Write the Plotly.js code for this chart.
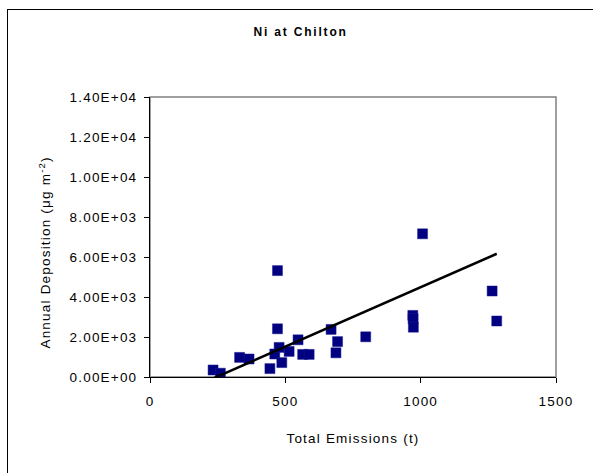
<!DOCTYPE html>
<html>
<head>
<meta charset="utf-8">
<script src="https://cdn.plot.ly/plotly-3.0.1.min.js"></script>
<style>
  html, body { margin: 0; padding: 0; background: #fff; }
  #wrap { position: relative; width: 593px; height: 473px; overflow: hidden; }
  #chart { position: absolute; left: 0; top: 0; width: 593px; height: 473px; }
  #frame { position: absolute; left: 7px; top: 9px; width: 700px; height: 600px;
           border-left: 1px solid #000; border-top: 1px solid #000; pointer-events: none; }
  .main-svg text { letter-spacing: 1.2px; }
  .main-svg .gtitle { letter-spacing: 1.8px; }
</style>
</head>
<body>
<div id="wrap">
  <div id="chart"></div>
  <div id="frame"></div>
</div>
<script>
// Total emissions (t) and annual deposition (µg m-2)
var emissions = [233, 260, 331, 366, 443, 461, 471, 471, 477, 487, 514, 547,
                 564, 588, 669, 687, 693, 797, 971, 972, 973, 1007, 1264, 1281];
var deposition = [350, 190, 980, 900, 420, 1150, 5320, 2410, 1480, 720, 1280, 1860,
                  1130, 1130, 2380, 1210, 1770, 2010, 3080, 2920, 2490, 7160, 4300, 2800];

// Linear trendline as drawn on the chart
var trendSlope = 5.95;
var trendIntercept = -1460;

var yTickVals = [0, 2000, 4000, 6000, 8000, 10000, 12000, 14000];
var yTickText = ["0.00E+00", "2.00E+03", "4.00E+03", "6.00E+03", "8.00E+03",
                 "1.00E+04", "1.20E+04", "1.40E+04"];
var xTickVals = [0, 500, 1000, 1500];
var xTickText = ["0", "500", "1000", "1500"];

var xMin = Math.min.apply(null, emissions);
var xMax = Math.max.apply(null, emissions);
var trendX = [xMin, xMax];
var trendY = trendX.map(function (x) { return trendSlope * x + trendIntercept; });

var font = "'Liberation Sans', Arial, sans-serif";

var traces = [
  {
    x: emissions, y: deposition, type: 'scatter', mode: 'markers',
    marker: { symbol: 'square', size: 10, color: '#000080', line: { width: 0.5, color: '#1a1a90' } },
    showlegend: false, hoverinfo: 'x+y'
  },
  {
    x: trendX, y: trendY, type: 'scatter', mode: 'lines',
    line: { color: '#000000', width: 2.5 },
    showlegend: false, hoverinfo: 'skip'
  }
];

var layout = {
  width: 593, height: 473,
  margin: { l: 150, r: 37, t: 97, b: 96 },
  paper_bgcolor: '#ffffff', plot_bgcolor: '#ffffff',
  font: { family: font, size: 13.5, color: '#000000' },
  title: {
    text: 'Ni at Chilton',
    font: { family: font, size: 12, color: '#000000', weight: 'bold' },
    x: 0.507, xanchor: 'center', y: 0.932, yanchor: 'middle'
  },
  xaxis: {
    range: [0, 1500], tickvals: xTickVals, ticktext: xTickText,
    showgrid: false, zeroline: false,
    showline: true, linecolor: '#000000', linewidth: 1,
    ticks: 'outside', ticklen: 5, tickcolor: '#000000', tickwidth: 1,
    ticklabelstandoff: 7,
    tickfont: { family: font, size: 13.5, color: '#000000' },
    title: { text: 'Total Emissions (t)', font: { family: font, size: 13.5, color: '#000000' }, standoff: 25 },
    automargin: false
  },
  yaxis: {
    range: [0, 14000], tickvals: yTickVals, ticktext: yTickText,
    showgrid: false, zeroline: false,
    showline: true, linecolor: '#000000', linewidth: 1,
    ticks: 'outside', ticklen: 5, tickcolor: '#000000', tickwidth: 1,
    ticklabelstandoff: 4,
    tickfont: { family: font, size: 13.5, color: '#000000' },
    automargin: false
  },
  annotations: [
    { text: 'Annual Deposition (μg m<sup>-2</sup>)', xref: 'paper', yref: 'paper',
      x: -0.259, y: 0.446, xanchor: 'center', yanchor: 'middle', textangle: -90,
      showarrow: false, font: { family: font, size: 13.5, color: '#000000' } }
  ],
  shapes: [
    { type: 'rect', xref: 'paper', yref: 'paper', x0: 0, x1: 1, y0: 0, y1: 1,
      line: { color: '#808080', width: 1.5 }, layer: 'below' }
  ]
};

Plotly.newPlot('chart', traces, layout, { displayModeBar: false, staticPlot: true });
</script>
</body>
</html>
